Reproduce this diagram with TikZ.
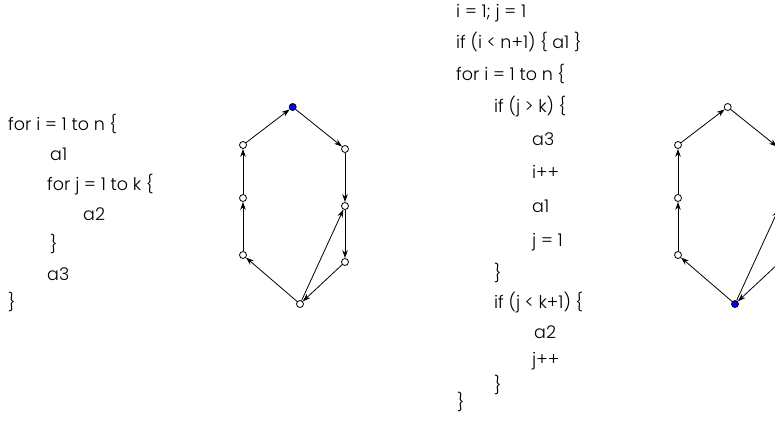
\documentclass[tikz,border=0pt]{standalone}
\usepackage{fontspec}
\newfontfamily\codefont{Poppins Light}
\usetikzlibrary{arrows.meta}

\begin{document}
\begin{tikzpicture}[x=1pt,y=-1pt,
    vtx/.style={circle,draw,fill=white,line width=0.8pt,inner sep=0pt,minimum size=7pt},
    hot/.style={vtx,fill=blue},
    ar/.style={-{Stealth[length=8pt,width=5.5pt]},line width=0.8pt},
    code/.style={anchor=west,inner sep=0pt,text height=1.5ex,text depth=.3ex,font=\codefont\fontsize{17.5}{20}\selectfont}
]
\useasboundingbox (0,0) rectangle (775,422);
\clip (0,0) rectangle (775,422);

% nested loops
\node[code] (f1) at (8,128) {for i = 1 to n \{};
\node[code] (f2) at (50,158) {a1};
\node[code] (f3) at (47,188) {for j = 1 to k \{};
\node[code] (f4) at (83,218) {a2};
\node[code] (f5) at (50,248) {\}};
\node[code] (f6) at (47,278) {a3};
\node[code] (f7) at (8,306) {\}};

% flattened loop
\node[code] (g1) at (456,15) {i = 1; j = 1};
\node[code] (g2) at (456,46) {if (i < n+1) \{ a1 \}};
\node[code] (g3) at (456,78) {for i = 1 to n \{};
\node[code] (g4) at (494,110) {if (j > k) \{};
\node[code] (g5) at (532,143) {a3};
\node[code] (g6) at (532,176) {i++};
\node[code] (g7) at (532,210) {a1};
\node[code] (g8) at (532,244) {j = 1};
\node[code] (g9) at (494,277) {\}};
\node[code] (g10) at (494,306) {if (j < k+1) \{};
\node[code] (g11) at (534,336) {a2};
\node[code] (g12) at (532,363) {j++};
\node[code] (g13) at (494,389) {\}};
\node[code] (g14) at (457,406) {\}};

% cycle graphs
\node[hot] (u1) at (292.7,107) {};
\node[vtx] (u2) at (345,149) {};
\node[vtx] (u3) at (345,206) {};
\node[vtx] (u4) at (345,262) {};
\node[vtx] (u5) at (300,304) {};
\node[vtx] (u6) at (243,255) {};
\node[vtx] (u7) at (243,198) {};
\node[vtx] (u8) at (243,145) {};

\node[vtx] (v1) at (727.7,107) {};
\node[vtx] (v2) at (780,149) {};
\node[vtx] (v3) at (780,206) {};
\node[vtx] (v4) at (780,262) {};
\node[hot] (v5) at (735,304) {};
\node[vtx] (v6) at (678,255) {};
\node[vtx] (v7) at (678,198) {};
\node[vtx] (v8) at (678,145) {};

\draw[ar] (u8) -- (u1);
\draw[ar] (u1) -- (u2);
\draw[ar] (u2) -- (u3);
\draw[ar] (u3) -- (u4);
\draw[ar] (u4) -- (u5);
\draw[ar] (u5) -- (u3);
\draw[ar] (u5) -- (u6);
\draw[ar] (u6) -- (u7);
\draw[ar] (u7) -- (u8);

\draw[ar] (v8) -- (v1);
\draw[ar] (v1) -- (v2);
\draw[ar] (v2) -- (v3);
\draw[ar] (v3) -- (v4);
\draw[ar] (v4) -- (v5);
\draw[ar] (v5) -- (v3);
\draw[ar] (v5) -- (v6);
\draw[ar] (v6) -- (v7);
\draw[ar] (v7) -- (v8);
\end{tikzpicture}
\end{document}
